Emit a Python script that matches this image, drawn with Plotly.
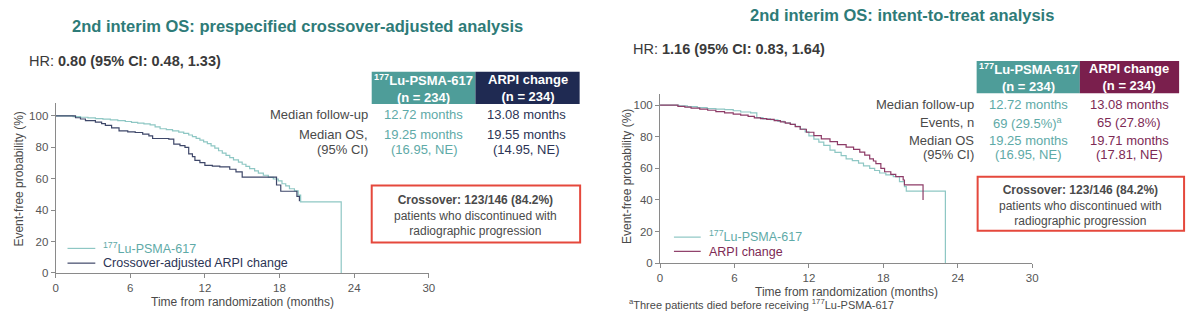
import plotly.graph_objects as go

# ---------------- data ----------------
x_ticks = [0, 6, 12, 18, 24, 30]
y_ticks = [0, 20, 40, 60, 80, 100]

# Left panel: crossover-adjusted analysis
left_lu_t = [0, 1.4, 2.0, 2.6, 3.2, 3.8, 4.4, 5.0, 5.6, 6.1, 6.6, 7.1, 7.6, 8.0, 8.4, 8.9, 9.4, 9.9,
             10.3, 10.7, 11.0, 11.3, 11.6, 11.9, 12.2, 12.5, 12.8, 13.1, 13.4, 13.7, 14.0, 14.3, 14.7,
             15.0, 15.3, 15.6, 16.0, 16.3, 16.7, 17.1, 17.5, 17.9, 18.2, 18.5, 18.8, 19.2, 19.5, 19.7, 22.96]
left_lu_p = [100, 99.5, 99.1, 98.7, 98.3, 97.9, 97.5, 97.0, 96.4, 95.9, 95.4, 94.9, 94.3, 93.0, 91.8,
             91.2, 90.5, 89.7, 88.8, 87.8, 86.8, 85.7, 84.6, 83.5, 82.3, 80.9, 79.4, 77.8, 76.3, 74.8,
             73.4, 72.0, 70.6, 69.2, 67.8, 66.4, 65.0, 63.6, 62.2, 60.9, 59.8, 58.6, 56.8, 55.4, 53.6,
             52.2, 49.6, 45.2, 0]
left_arpi_t = [0, 1.6, 2.0, 2.4, 3.2, 3.7, 4.0, 4.5, 5.1, 5.8, 6.4, 7.0, 7.5, 7.8, 9.1, 9.5, 10.0, 10.4,
               10.7, 11.0, 11.2, 11.6, 12.0, 12.6, 13.2, 14.0, 14.5, 15.0, 17.76, 18.1, 19.4, 19.6]
left_arpi_p = [100, 98.8, 98.0, 97.0, 96.0, 95.0, 94.0, 92.4, 90.4, 89.8, 89.4, 88.4, 87.3, 85.6, 85.2,
               82.0, 81.0, 80.0, 75.8, 74.0, 71.7, 70.2, 68.5, 68.0, 67.5, 66.0, 64.4, 61.0, 56.0, 52.0,
               48.8, 45.6]

# Right panel: intent-to-treat analysis
right_lu_t = [0, 1.5, 2.2, 3.0, 3.8, 4.5, 5.2, 5.9, 6.5, 7.3, 7.8, 8.3, 8.9, 9.5, 10.0, 10.5, 10.9, 11.3,
              11.7, 12.0, 12.4, 12.8, 13.2, 13.7, 14.1, 14.6, 15.0, 15.5, 16.0, 16.4, 16.9, 17.3, 17.7,
              18.2, 18.8, 19.3, 19.7, 19.85, 23.0]
right_lu_p = [100, 99.5, 99.0, 98.4, 97.7, 97.4, 97.1, 96.4, 95.6, 95.0, 92.0, 91.3, 90.7, 89.7, 88.8,
              87.8, 86.5, 84.8, 83.0, 80.5, 78.5, 76.6, 74.5, 71.5, 70.0, 68.0, 66.0, 64.8, 63.2, 61.5,
              60.0, 58.6, 57.0, 55.8, 54.7, 51.5, 48.4, 45.5, 0]
right_arpi_t = [0, 1.44, 2.0, 2.5, 3.2, 3.84, 4.5, 5.2, 5.9, 6.5, 7.1, 7.6, 8.1, 8.6, 9.2, 9.7, 10.1, 10.5,
                10.9, 11.3, 11.8, 12.4, 13.0, 13.7, 14.3, 15.0, 15.6, 16.1, 16.5, 16.9, 17.2, 17.4, 17.8,
                18.1, 18.6, 19.0, 19.6, 19.7, 21.2]
right_arpi_p = [100, 99.2, 98.7, 98.1, 97.4, 96.7, 95.8, 95.0, 94.3, 93.6, 92.8, 91.9, 91.4, 90.9, 90.1,
                89.4, 88.6, 87.8, 86.3, 84.7, 82.8, 80.6, 78.6, 76.8, 75.0, 73.4, 72.0, 70.2, 68.3, 66.0,
                64.6, 62.9, 60.0, 57.8, 56.2, 54.7, 52.6, 49.5, 40.0]

left_title = "2nd interim OS: prespecified crossover-adjusted analysis"
right_title = "2nd interim OS: intent-to-treat analysis"
left_hr = "HR: <b>0.80 (95% CI: 0.48, 1.33)</b>"
right_hr = "HR: <b>1.16 (95% CI: 0.83, 1.64)</b>"

left_rows = ["Median follow-up", "Median OS,", "(95% CI)"]
left_lu_vals = ["12.72 months", "19.25 months", "(16.95, NE)"]
left_arpi_vals = ["13.08 months", "19.55 months", "(14.95, NE)"]

right_rows = ["Median follow-up", "Events, n", "Median OS", "(95% CI)"]
right_lu_vals = ["12.72 months", "69 (29.5%)<sup>a</sup>", "19.25 months", "(16.95, NE)"]
right_arpi_vals = ["13.08 months", "65 (27.8%)", "19.71 months", "(17.81, NE)"]

hdr_lu = "<b><sup>177</sup>Lu-PSMA-617<br>(n = 234)</b>"
hdr_arpi = "<b>ARPI change<br>(n = 234)</b>"
crossover_text = "<b>Crossover: 123/146 (84.2%)</b><br>patients who discontinued with<br>radiographic progression"
footnote = "<sup>a</sup>Three patients died before receiving <sup>177</sup>Lu-PSMA-617"
x_title = "Time from randomization (months)"
y_title = "Event-free probability (%)"

# ---------------- style ----------------
FONT = "Liberation Sans, Arial, sans-serif"
W, H = 1200, 331
TEAL_TITLE = "#2e7b78"
TEAL_BOX = "#4e9d99"
NAVY_BOX = "#1f2a52"
MAROON_BOX = "#7a1f4d"
TEAL_LINE = "#8ec7c4"
NAVY_LINE = "#3e4769"
MAROON_LINE = "#8d3b67"
TEAL_TXT = "#5eaaa7"
NAVY_TXT = "#2c3455"
MAROON_TXT = "#7d2a55"
GREY_TXT = "#4a4a4a"
AXIS = "#8a8a8a"
RED = "#e5483c"


def px(x):
    return x / W


def py(y):
    return 1 - y / H


fig = go.Figure()
fig.add_trace(go.Scatter(x=left_lu_t, y=left_lu_p, mode="lines", line=dict(shape="hv", color=TEAL_LINE, width=1.2),
                         xaxis="x", yaxis="y", showlegend=False, name="177Lu-PSMA-617"))
fig.add_trace(go.Scatter(x=left_arpi_t, y=left_arpi_p, mode="lines", line=dict(shape="hv", color=NAVY_LINE, width=1.2),
                         xaxis="x", yaxis="y", showlegend=False, name="Crossover-adjusted ARPI change"))
fig.add_trace(go.Scatter(x=right_lu_t, y=right_lu_p, mode="lines", line=dict(shape="hv", color=TEAL_LINE, width=1.2),
                         xaxis="x2", yaxis="y2", showlegend=False, name="177Lu-PSMA-617"))
fig.add_trace(go.Scatter(x=right_arpi_t, y=right_arpi_p, mode="lines", line=dict(shape="hv", color=MAROON_LINE, width=1.2),
                         xaxis="x2", yaxis="y2", showlegend=False, name="ARPI change"))

axis_common = dict(showline=True, linecolor=AXIS, linewidth=1, ticks="outside", ticklen=4, tickcolor=AXIS,
                   showgrid=False, zeroline=False, tickfont=dict(family=FONT, size=11.5, color="#555555"))

# left axes: x 0 at px 53, 30 at px 429; y 0 at 278, 108 at 105.2
fig.update_layout(
    xaxis=dict(domain=[px(53), px(429)], range=[0, 30], tickvals=x_ticks, anchor="y", **axis_common),
    yaxis=dict(domain=[py(278), py(105.2)], range=[0, 108], tickvals=y_ticks, anchor="x", **axis_common),
    xaxis2=dict(domain=[px(662), px(1037)], range=[0, 30], tickvals=x_ticks, anchor="y2", **axis_common),
    yaxis2=dict(domain=[py(268), py(95.7)], range=[0, 107], tickvals=y_ticks, anchor="x2", **axis_common),
)

ann = []


def text(x, y, s, size=13, color=GREY_TXT, xanchor="center", angle=0, align="center"):
    ann.append(dict(x=px(x), y=py(y), xref="paper", yref="paper", text=s, showarrow=False,
                    xanchor=xanchor, yanchor="middle", textangle=angle, align=align,
                    font=dict(family=FONT, size=size, color=color)))


# titles
text(297, 26, "<b>" + left_title + "</b>", size=16.5, color=TEAL_TITLE)
text(906, 15, "<b>" + right_title + "</b>", size=16.5, color=TEAL_TITLE)
text(24, 62, left_hr, size=14.5, color="#3a3a3a", xanchor="left")
text(633, 50, right_hr, size=14.5, color="#3a3a3a", xanchor="left")

# axis titles
text(241, 308, x_title, size=12, color=GREY_TXT)
text(850, 297, x_title, size=12, color=GREY_TXT)
text(16, 182, y_title, size=12, color=GREY_TXT, angle=-90)
text(628, 180, y_title, size=12, color=GREY_TXT, angle=-90)

shapes = []


def rect(x0, y0, x1, y1, fill=None, line=None, lw=0):
    shapes.append(dict(type="rect", xref="paper", yref="paper", x0=px(x0), x1=px(x1), y0=py(y1), y1=py(y0),
                       fillcolor=fill if fill else "rgba(0,0,0,0)",
                       line=dict(color=line if line else "rgba(0,0,0,0)", width=lw), layer="above"))


def hline(x0, x1, y, color):
    shapes.append(dict(type="line", xref="paper", yref="paper", x0=px(x0), x1=px(x1), y0=py(y), y1=py(y),
                       line=dict(color=color, width=1.2)))


# left table
rect(371.5, 73, 476, 106, fill=TEAL_BOX)
rect(476, 73, 581, 106, fill=NAVY_BOX)
text(424, 90, hdr_lu, size=13, color="white")
text(528.5, 90, hdr_arpi, size=13, color="white")
left_row_y = [117, 137, 152]
for yy, lab, v1, v2 in zip(left_row_y, left_rows, left_lu_vals, left_arpi_vals):
    text(370, yy, lab, size=13, color=GREY_TXT, xanchor="right")
    text(424, yy, v1, size=13, color=TEAL_TXT)
    text(527, yy, v2, size=13, color=NAVY_TXT)

# right table
rect(981, 62, 1085, 95, fill=TEAL_BOX)
rect(1085, 62, 1185, 95, fill=MAROON_BOX)
text(1033, 78.5, hdr_lu, size=13, color="white")
text(1135, 78.5, hdr_arpi, size=13, color="white")
right_row_y = [106, 125, 143, 157]
for yy, lab, v1, v2 in zip(right_row_y, right_rows, right_lu_vals, right_arpi_vals):
    text(980, yy, lab, size=13, color=GREY_TXT, xanchor="right")
    text(1033, yy, v1, size=13, color=TEAL_TXT)
    text(1135, yy, v2, size=13, color=MAROON_TXT)

# crossover boxes
rect(371.5, 189, 581.5, 247, line=RED, lw=2)
text(476.5, 219, crossover_text, size=12, color=GREY_TXT)
rect(982, 180, 1190, 235, line=RED, lw=2)
text(1086, 209, crossover_text, size=12, color=GREY_TXT)

# legends
hline(65, 93, 253, TEAL_LINE)
text(99, 252.5, "<sup>177</sup>Lu-PSMA-617", size=12.5, color=TEAL_TXT, xanchor="left")
hline(65, 93, 268, NAVY_LINE)
text(99, 268, "Crossover-adjusted ARPI change", size=12.5, color=NAVY_TXT, xanchor="left")
hline(676, 703, 241.5, TEAL_LINE)
text(709, 240.5, "<sup>177</sup>Lu-PSMA-617", size=12.5, color=TEAL_TXT, xanchor="left")
hline(676, 703, 256, MAROON_LINE)
text(709, 256.5, "ARPI change", size=12.5, color=MAROON_TXT, xanchor="left")

# footnote
text(629, 310, footnote, size=11, color=GREY_TXT, xanchor="left")

fig.update_layout(
    width=W, height=H, margin=dict(l=0, r=0, t=0, b=0),
    paper_bgcolor="white", plot_bgcolor="white",
    annotations=ann, shapes=shapes, showlegend=False,
    font=dict(family=FONT),
)

fig.write_html("out.html")
